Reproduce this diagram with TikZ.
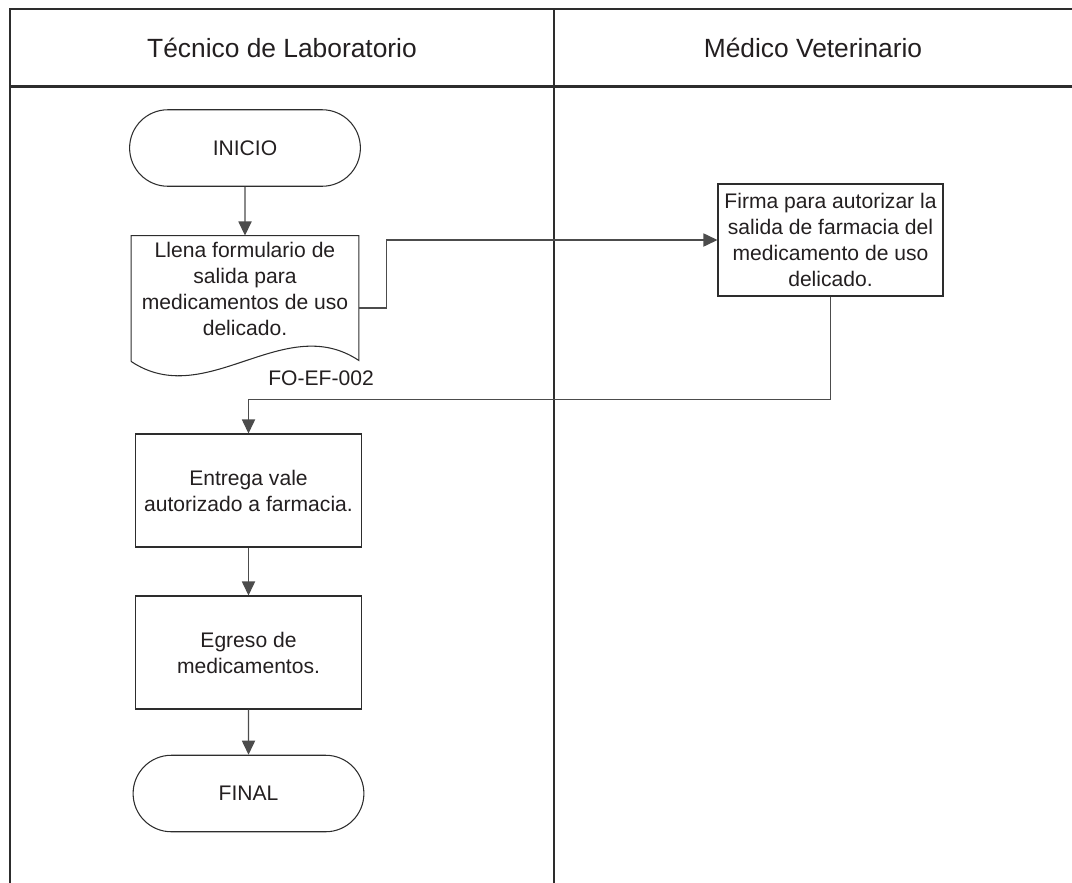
\documentclass[tikz,border=0pt]{standalone}
\usepackage{fontspec}
\setmainfont{Liberation Sans}
\usetikzlibrary{arrows.meta,shapes.misc}
\definecolor{lineGray}{RGB}{45, 45, 45}
\definecolor{textGray}{RGB}{35, 31, 32}
\tikzset{%%
  >={Triangle[length=8pt,width=7.5pt]},
  lane/.style={draw=lineGray, line width=1.2pt},
  conn/.style={draw=lineGray!85, line width=0.7pt},
  outline/.style={draw=lineGray, line width=0.6pt},
  head/.style={text=textGray, font=\fontsize{15}{18}\selectfont},
  body/.style={text=textGray, align=center, font=\fontsize{12}{14.8}\selectfont},
  proc/.style={body, outline, minimum width=4.52cm, minimum height=2.26cm},
  term/.style={body, outline, rounded rectangle, minimum width=4.85cm, minimum height=1.53cm},
  docbox/.style={body, minimum width=4.54cm, minimum height=2.1cm}
  }

\begin{document}
\begin{tikzpicture}
  \useasboundingbox (0,0) rectangle (21.44,-17.66);
  % swimlanes
  \draw[lane] (0.2,-17.66) -- (0.2,-0.18) -- (21.44,-0.18);
  \draw[lane] (0.2,-1.73) -- (21.44,-1.73);
  \draw[lane] (11.08,-0.18) -- (11.08,-17.66);
  \node[head] (tecnico) at (5.64,-0.955) {Técnico de Laboratorio};
  \node[head] (medico) at (16.26,-0.955) {Médico Veterinario};
  % steps
  \node[term] (inicio) at (4.9,-2.96) {INICIO};
  \node[docbox] (llena) at (4.9,-5.77) {Llena formulario de\\salida para\\medicamentos de uso\\delicado.};
  \draw[outline] ([yshift=-0.4cm]llena.south west) -- (llena.north west) -- (llena.north east)
    -- ([yshift=-0.38cm]llena.south east) .. controls +(-1.5,1.0) and +(1.5,-1.0) .. ([yshift=-0.4cm]llena.south west);
  \node[body] (fo) at (6.42,-7.56) {FO-EF-002};
  \node[proc, minimum width=4.5cm, minimum height=2.24cm] (firma) at (16.61,-4.8) {Firma para autorizar la\\salida de farmacia del\\medicamento de uso\\delicado.};
  \node[proc] (entrega) at (4.97,-9.81) {Entrega vale\\autorizado a farmacia.};
  \node[proc] (egreso) at (4.97,-13.05) {Egreso de\\medicamentos.};
  \node[term] (final) at (4.97,-15.87) {FINAL};
  % connectors
  \draw[conn,->] (inicio) -- (llena.north);
  \draw[conn,->] ([yshift=-0.39cm]llena.east) -- ++(0.56,0) |- (firma.west);
  \draw[conn,->] (firma.south) -- ++(0,-2.06) -| (entrega.north);
  \draw[conn,->] (entrega) -- (egreso);
  \draw[conn,->] (egreso) -- (final);
\end{tikzpicture}
\end{document}
